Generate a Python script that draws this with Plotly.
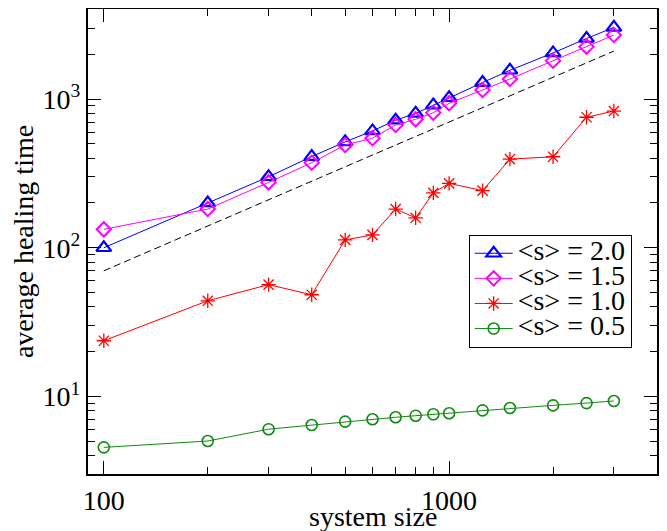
import plotly.graph_objects as go

# ---- data ----
system_size = [100, 200, 300, 400, 500, 600, 700, 800, 900, 1000, 1250, 1500, 2000, 2500, 3000]
s20 = [100, 200, 300, 410, 515, 610, 720, 800, 910, 1020, 1290, 1560, 2040, 2550, 3030]
s15 = [133, 182, 275, 373, 491, 545, 669, 730, 809, 936, 1150, 1362, 1808, 2249, 2692]
s10 = [23.7, 44, 56.5, 48.3, 113, 122, 182, 159, 234, 271, 242, 394, 409, 754, 830]
s05 = [4.55, 5.02, 6.03, 6.43, 6.78, 7.03, 7.25, 7.43, 7.59, 7.71, 8.07, 8.37, 8.72, 9.03, 9.33]
guide_x = [100, 3000]
guide_y = [70, 2100]

x_tickvals = [100, 1000]
x_ticktext = ["100", "1000"]
x_minor = [200, 300, 400, 500, 600, 700, 800, 900, 2000, 3000]
y_tickvals = [10, 100, 1000]
y_ticktext = ["10<sup>1</sup>", "10<sup>2</sup>", "10<sup>3</sup>"]
y_minor = [4, 5, 6, 7, 8, 9, 20, 30, 40, 50, 60, 70, 80, 90,
           200, 300, 400, 500, 600, 700, 800, 900, 2000, 3000]

labels = ["&lt;s&gt; = 2.0", "&lt;s&gt; = 1.5", "&lt;s&gt; = 1.0", "&lt;s&gt; = 0.5"]
colors = ["#0000ff", "#ff00ff", "#ff0000", "#108a10"]
symbols = ["triangle-up-open", "diamond-open", "asterisk-open", "circle-open"]
sizes = [13, 11, 12, 11]
mline = [2.2, 2, 1.3, 1.6]

FONT = "Liberation Serif"

fig = go.Figure()
for ys, lab, c, sym, sz, mw in zip([s20, s15, s10, s05], labels, colors, symbols, sizes, mline):
    fig.add_trace(go.Scatter(
        x=system_size, y=ys, mode="lines+markers",
        name='<span style="font-size:28px">' + lab + "</span>",
        line=dict(color=c, width=1),
        marker=dict(symbol=sym, size=sz, color=c, line=dict(color=c, width=mw)),
    ))

fig.add_trace(go.Scatter(
    x=guide_x, y=guide_y, mode="lines", showlegend=False,
    line=dict(color="black", width=1, dash="7px,4px"),
))

axis_common = dict(
    type="log", showgrid=False, zeroline=False, automargin=False,
    showline=True, linecolor="black", linewidth=2, mirror="allticks",
    ticks="inside", ticklen=13, tickwidth=1, tickcolor="black",
    tickfont=dict(family=FONT, size=28, color="black"),
)

fig.update_xaxes(
    **axis_common,
    range=[1.9542, 3.602],
    tickmode="array", tickvals=x_tickvals, ticktext=x_ticktext,
    minor=dict(tickmode="array", tickvals=x_minor, ticks="inside", ticklen=7,
               tickcolor="black", tickwidth=1, showgrid=False),
)
fig.update_yaxes(
    **axis_common,
    range=[0.479, 3.605],
    tickmode="array", tickvals=y_tickvals, ticktext=y_ticktext,
    minor=dict(tickmode="array", tickvals=y_minor, ticks="inside", ticklen=7,
               tickcolor="black", tickwidth=1, showgrid=False),
    title=dict(text="average healing time", font=dict(family=FONT, size=28, color="black"), standoff=6),
)

fig.add_annotation(
    text="system size", xref="paper", yref="paper", x=0.5, y=-0.092,
    xanchor="center", yanchor="middle", showarrow=False,
    font=dict(family=FONT, size=28, color="black"),
)

# The page body adds an 8 px offset, so margins are shifted to keep the frame in place.
fig.update_layout(
    width=667, height=531,
    margin=dict(l=80, r=18, t=1, b=65, autoexpand=False),
    paper_bgcolor="white", plot_bgcolor="white",
    showlegend=True,
    legend=dict(
        x=0.669, y=0.5146, xanchor="left", yanchor="top",
        bgcolor="white", bordercolor="black", borderwidth=1,
        font=dict(family=FONT, size=17, color="black"),
        itemwidth=38, tracegroupgap=0,
    ),
)

fig.write_html("out.html")
